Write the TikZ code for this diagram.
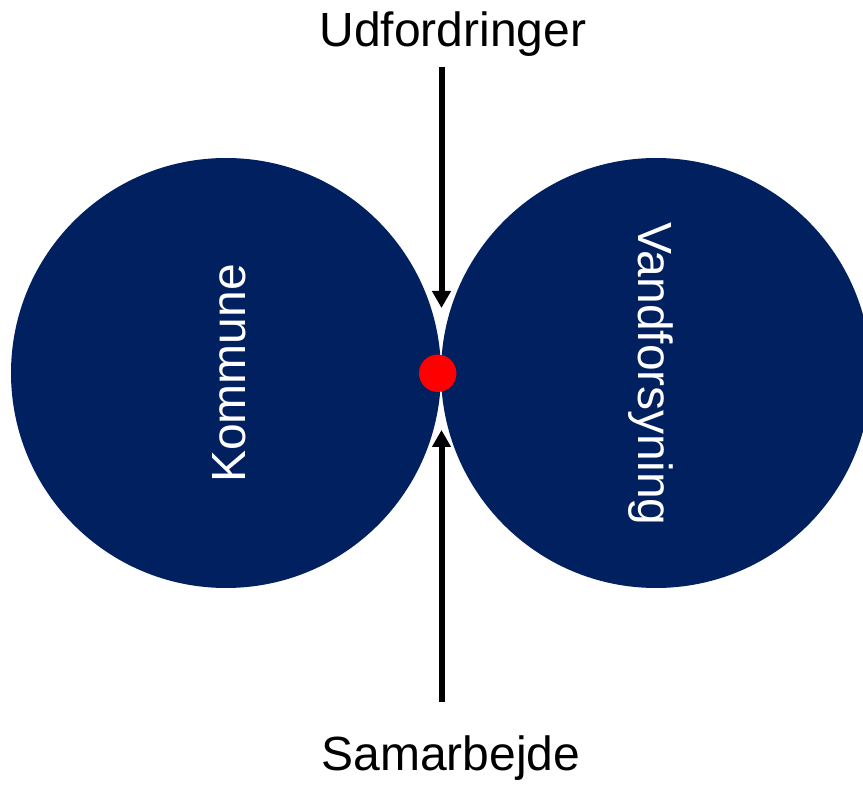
\documentclass[tikz,border=0pt]{standalone}
\usepackage{fontspec}
\setmainfont{Liberation Sans}
\usetikzlibrary{
  arrows.meta % For arrow tips
}
\definecolor{navy}{RGB}{0,32,96}

\begin{document}
\begin{tikzpicture}[
      x=0.5pt, y=-0.5pt, % 1 unit = 1 pixel of the reference
      >={Triangle[width=9pt, length=8.5pt]}, % Default arrow tip
      blob/.style={circle, fill=navy, inner sep=0pt, minimum size=215pt}, % Style for the two circles
      label/.style={font=\fontsize{24}{28}\selectfont, inner sep=0pt, anchor=base}, % Style for texts
      push/.style={black, line width=3pt, ->}, % Style for the two arrows
    ]

    % Rahmen
    \useasboundingbox (0, 0) rectangle (863, 796);
    \clip (0, 0) rectangle (863, 796);

    % Kreise
    \node[blob] (kommune) at (226, 373) {};
    \node[blob] (vand) at (656, 373) {};

    % Beschriftungen
    \node[label, white, rotate=90]  (kommunetext) at (245, 373.5) {Kommune};
    \node[label, white, rotate=-90] (vandtext) at (638, 374) {Vandforsyning};
    \node[label] (udf) at (453, 47) {Udfordringer};
    \node[label] (sam) at (451, 770) {Samarbejde};

    % Pfeile
    \coordinate (topstart) at (441.5, 67);
    \coordinate (topend) at (441.5, 308);
    \coordinate (botstart) at (441.5, 702);
    \coordinate (botend) at (441.5, 430);
    \draw[push] (topstart) -- (topend);
    \draw[push] (botstart) -- (botend);

    % Punkt
    \node[circle, fill=red, inner sep=0pt, minimum size=18.7pt] (dot) at (437.7, 373.3) {};

  \end{tikzpicture}
\end{document}
